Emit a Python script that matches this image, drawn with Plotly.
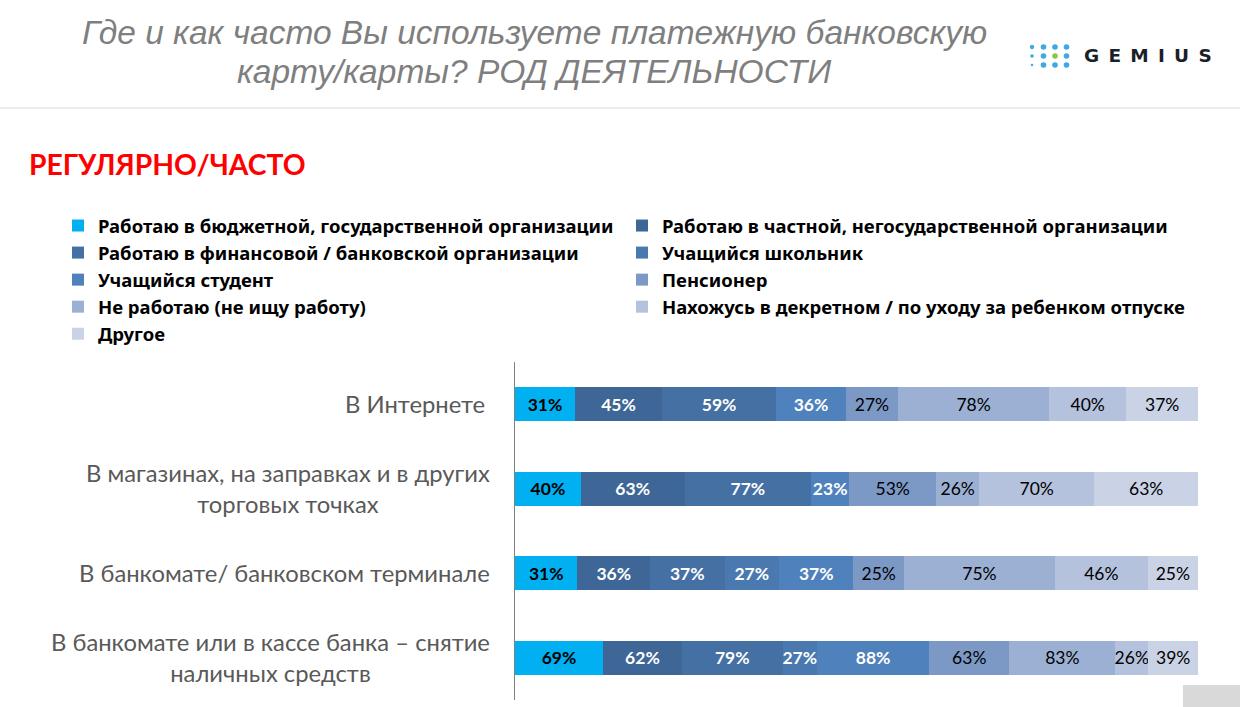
import plotly.graph_objects as go

title_lines = [
    "Где и как часто Вы используете платежную банковскую",
    "карту/карты? РОД ДЕЯТЕЛЬНОСТИ",
]
subtitle = "РЕГУЛЯРНО/ЧАСТО"

categories = [
    "В Интернете",
    "В магазинах, на заправках и в других<br>торговых точках",
    "В банкомате/ банковском терминале",
    "В банкомате или в кассе банка – снятие<br>наличных средств",
]
label_shift = [-5, 0, 0, 0]

budget = [31, 40, 31, 69]
private = [45, 63, 36, 62]
finance = [59, 77, 37, 79]
school = [None, None, 27, 27]
student = [36, 23, 37, 88]
pensioner = [27, 53, 25, 63]
not_working = [78, 26, 75, 83]
maternity = [40, 70, 46, 26]
other = [37, 63, 25, 39]

series = [
    ("Работаю в бюджетной, государственной организации", budget, "#00B0F0", "black", "bold"),
    ("Работаю в частной, негосударственной организации", private, "#3E6696", "white", "bold"),
    ("Работаю в финансовой / банковской организации", finance, "#4570A3", "white", "bold"),
    ("Учащийся школьник", school, "#4A79AF", "white", "bold"),
    ("Учащийся студент", student, "#4F81BD", "white", "bold"),
    ("Пенсионер", pensioner, "#7C99C6", "black", "normal"),
    ("Не работаю (не ищу работу)", not_working, "#9CB0D3", "black", "normal"),
    ("Нахожусь в декретном / по уходу за ребенком отпуске", maternity, "#B4C2DD", "black", "normal"),
    ("Другое", other, "#CAD3E5", "black", "normal"),
]

W, H = 1240, 707


def px(x):
    return x / W


def py(y):
    return 1 - y / H


fig = go.Figure()
for name, values, color, text_color, weight in series:
    fig.add_trace(go.Bar(
        name=name,
        y=categories,
        x=values,
        orientation="h",
        marker=dict(color=color, line_width=0),
        text=[f"{v}%" if v is not None else None for v in values],
        textposition="inside",
        insidetextanchor="middle",
        textangle=0,
        constraintext="none",
        textfont=dict(family="Lato", size=17.5, color=text_color, weight=weight),
        hoverinfo="name+x",
    ))

fig.update_layout(
    width=W,
    height=H,
    margin=dict(l=0, r=0, t=0, b=0, pad=0),
    paper_bgcolor="white",
    plot_bgcolor="white",
    barmode="stack",
    barnorm="percent",
    bargap=0.6,
    showlegend=True,
    legend=dict(
        orientation="h",
        x=px(58),
        y=py(207),
        yanchor="top",
        xanchor="left",
        entrywidth=519,
        entrywidthmode="pixels",
        traceorder="normal",
        font=dict(family="Noto Sans", size=18.5, color="black", weight="bold"),
        bgcolor="rgba(0,0,0,0)",
    ),
    xaxis=dict(domain=[px(515), px(1198)], range=[0, 100], visible=False, fixedrange=True),
    yaxis=dict(
        domain=[py(700), py(362)],
        autorange="reversed",
        showticklabels=False,
        ticks="",
        showgrid=False,
        zeroline=False,
        showline=True,
        linecolor="#808080",
        linewidth=1,
    ),
    font=dict(family="Lato"),
)

# slide title, two lines set apart by hand
for line, y in zip(title_lines, [33, 72]):
    fig.add_annotation(text=line, xref="paper", yref="paper", x=px(534), y=py(y),
                       xanchor="center", yanchor="middle", showarrow=False,
                       font=dict(family="Liberation Sans", size=33.5, color="#7F7F7F", style="italic"))

fig.add_annotation(text=subtitle, xref="paper", yref="paper", x=px(27), y=py(164),
                   xanchor="left", yanchor="middle", showarrow=False,
                   font=dict(family="Lato", size=28.3, color="#FF0000", weight="bold"))

# row labels sit left of the axis, centred between their lines
for cat, shift in zip(categories, label_shift):
    fig.add_annotation(text=cat, xref="paper", yref="y", x=px(492), y=cat, xshift=shift,
                       xanchor="right", yanchor="middle", align="center", showarrow=False,
                       font=dict(family="Lato", size=23.8, color="#595959"))

# header rule and the grey box in the corner
fig.add_shape(type="line", xref="paper", yref="paper", x0=0, x1=1, y0=py(108), y1=py(108),
              line=dict(color="#D9D9D9", width=1))
fig.add_shape(type="rect", xref="paper", yref="paper", x0=px(1183), x1=1, y0=0, y1=py(685),
              fillcolor="#D9D9D9", line_width=0)

# logo: dot grid plus the wordmark
logo_x = [1032, 1043.5, 1055, 1066.5]
logo_y = [47, 56, 65]
logo_r = [[2.2, 2.8, 2.8, 2.8], [1.8, 2.8, 2.8, 2.8], [1.3, 2.8, 2.8, 2.8]]
for j, cy in enumerate(logo_y):
    for i, cx in enumerate(logo_x):
        r = logo_r[j][i]
        dot = "#8CC63F" if (i, j) == (2, 1) else "#3FA9E0"
        fig.add_shape(type="circle", xref="paper", yref="paper",
                      x0=px(cx - r), x1=px(cx + r), y0=py(cy + r), y1=py(cy - r),
                      fillcolor=dot, line_width=0)
fig.add_annotation(text="\u2002".join("GEMIUS"), xref="paper", yref="paper", x=px(1147.5), y=py(56),
                   xanchor="center", yanchor="middle", showarrow=False,
                   font=dict(family="DejaVu Sans", size=18.5, color="#1A1F2B", weight="bold"))

fig.write_html("out.html", config={"displayModeBar": False},
               post_script="document.body.style.margin = '0';")
